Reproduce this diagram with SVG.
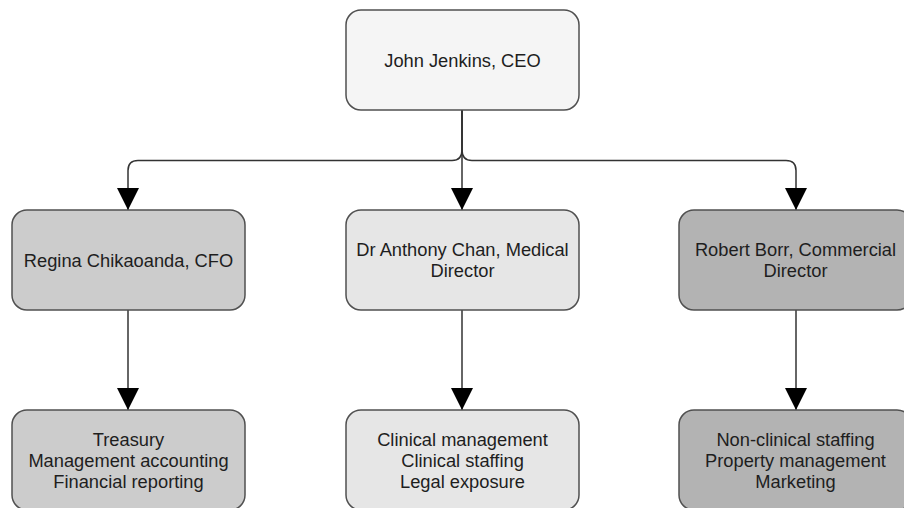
<svg xmlns="http://www.w3.org/2000/svg" width="904" height="508" viewBox="0 0 904 508">
<style>
.box{stroke:#505050;stroke-width:1.5}
.ceo{fill:#f5f5f5}
.fin{fill:#cccccc}
.med{fill:#e6e6e6}
.com{fill:#b3b3b3}
text{font-family:"Liberation Sans",Arial,sans-serif;font-size:18.3px;fill:#1e1e1e;text-anchor:middle}
.edge{fill:none;stroke:#333;stroke-width:1.5}
</style>
<defs>
<marker id="arr" markerUnits="userSpaceOnUse" markerWidth="22" markerHeight="22" viewBox="0 0 22 22" refX="22" refY="11" orient="auto">
<path d="M0,0 L22,11 L0,22 Z" fill="#000"/>
</marker>
</defs>
<rect width="904" height="508" fill="#fff"/>
<g id="connectors">
<path class="edge" d="M462,110 V150 Q462,160.5 452,160.5 H138 Q128,160.5 128,170.5 V210" marker-end="url(#arr)"/>
<path class="edge" d="M462,110 V150 Q462,160.5 472,160.5 H786 Q796,160.5 796,170.5 V210" marker-end="url(#arr)"/>
<path class="edge" d="M462,110 V210" marker-end="url(#arr)"/>
<path class="edge" d="M128,310 V410" marker-end="url(#arr)"/>
<path class="edge" d="M462,310 V410" marker-end="url(#arr)"/>
<path class="edge" d="M796,310 V410" marker-end="url(#arr)"/>
</g>
<g id="ceo">
<rect class="box ceo" x="346" y="10" width="233" height="100" rx="15"/>
<text x="462.5" y="66.5">John Jenkins, CEO</text>
</g>
<g id="cfo">
<rect class="box fin" x="12" y="210" width="233" height="100" rx="15"/>
<text x="128.5" y="266.5">Regina Chikaoanda, CFO</text>
</g>
<g id="medical">
<rect class="box med" x="346" y="210" width="233" height="100" rx="15"/>
<text x="462.5" y="256">Dr Anthony Chan, Medical</text>
<text x="462.5" y="277">Director</text>
</g>
<g id="commercial">
<rect class="box com" x="679" y="210" width="233" height="100" rx="15"/>
<text x="795.5" y="256">Robert Borr, Commercial</text>
<text x="795.5" y="277">Director</text>
</g>
<g id="fin-tasks">
<rect class="box fin" x="12" y="410" width="233" height="100" rx="15"/>
<text x="128.5" y="446">Treasury</text>
<text x="128.5" y="467">Management accounting</text>
<text x="128.5" y="488">Financial reporting</text>
</g>
<g id="med-tasks">
<rect class="box med" x="346" y="410" width="233" height="100" rx="15"/>
<text x="462.5" y="446">Clinical management</text>
<text x="462.5" y="467">Clinical staffing</text>
<text x="462.5" y="488">Legal exposure</text>
</g>
<g id="com-tasks">
<rect class="box com" x="679" y="410" width="233" height="100" rx="15"/>
<text x="795.5" y="446">Non-clinical staffing</text>
<text x="795.5" y="467">Property management</text>
<text x="795.5" y="488">Marketing</text>
</g>
</svg>
